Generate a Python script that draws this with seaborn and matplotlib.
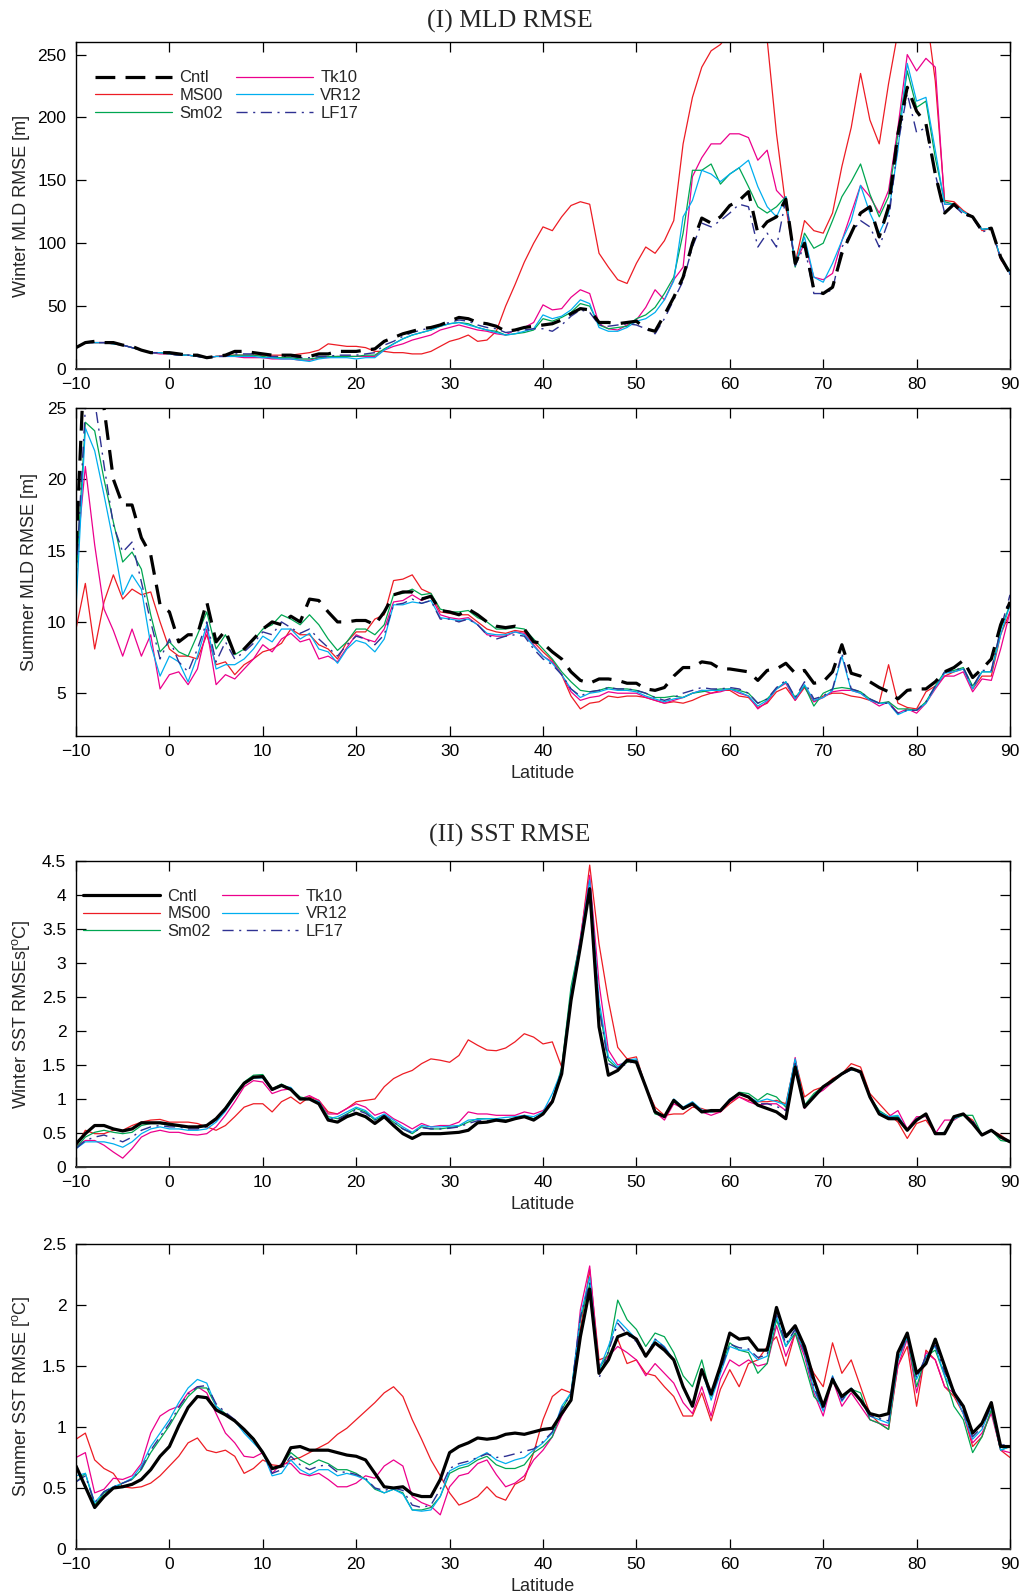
import matplotlib
matplotlib.use("Agg")
import matplotlib.pyplot as plt
import seaborn as sns
from matplotlib.ticker import FuncFormatter
from matplotlib.lines import Line2D

# ---------------- data ----------------
LAT = list(range(-10, 91))
NAMES = ["Cntl", "MS00", "Sm02", "Tk10", "VR12", "LF17"]

# (I) Winter MLD RMSE [m]
W_MLD_CNTL = [17,21,22,21,21,19,18,15,13,13,
              13,12,11,11,9,10,11,14,14,13,
              12,11,11,11,10,10,12,12,14,14,
              14,15,16,22,25,28,30,32,33,35,
              38,41,40,37,36,34,30,31,33,34,
              35,36,39,44,48,47,37,37,36,37,
              38,32,30,43,57,73,100,120,116,121,
              130,134,141,108,117,121,135,84,100,63,
              60,65,92,108,124,129,105,129,187,224,
              205,195,155,124,131,124,121,110,112,89,
              76]
W_MLD_MS00 = [17,21,21,21,21,19,17,15,13,13,
              12,11,11,10,9,10,11,11,11,11,
              11,11,11,11,12,13,15,20,19,18,
              18,17,14,14,13,13,12,12,14,18,
              22,24,27,22,23,30,50,67,85,100,
              113,110,121,130,133,131,92,81,71,68,
              84,97,92,102,118,179,216,240,253,258,
              268,278,285,280,262,187,129,84,118,110,
              108,124,161,192,235,198,179,227,268,285,
              292,285,229,134,133,126,121,110,112,87,
              77]
W_MLD_SM02 = [17,21,21,21,20,19,17,15,13,13,
              12,11,11,10,9,10,10,11,11,11,
              10,9,9,9,8,8,9,10,10,10,
              10,11,11,16,20,24,27,29,31,34,
              36,37,36,33,31,30,27,28,29,31,
              40,38,41,45,52,50,35,32,33,34,
              40,43,49,60,73,108,158,158,163,147,
              155,160,145,129,124,129,137,81,108,96,
              100,118,137,149,163,139,121,137,187,237,
              208,213,168,133,131,125,121,111,112,88,
              78]
W_MLD_TK10 = [17,21,21,21,20,19,17,15,13,12,
              12,11,11,10,9,10,10,10,9,9,
              9,8,8,8,7,7,9,9,10,10,
              10,10,10,15,18,20,23,25,27,31,
              33,35,33,31,30,28,27,31,33,37,
              51,47,48,57,63,60,36,32,31,35,
              39,49,63,55,71,81,153,168,179,179,
              187,187,184,166,174,142,134,84,100,73,
              71,76,102,124,146,137,124,142,192,250,
              237,247,240,131,131,125,121,111,112,88,
              76]
W_MLD_VR12 = [17,21,21,21,20,19,17,15,13,13,
              12,11,11,10,9,10,10,10,10,10,
              9,9,8,8,7,6,8,9,9,9,
              8,9,9,15,20,24,27,29,31,34,
              36,37,35,33,31,29,27,28,30,32,
              43,40,42,47,55,52,33,30,30,33,
              38,40,45,55,70,121,134,158,155,149,
              155,160,166,145,129,121,137,84,105,73,
              69,84,102,118,146,124,108,124,174,243,
              213,216,174,131,131,125,121,111,112,88,
              76]
W_MLD_LF17 = [17,21,21,21,20,19,17,15,13,13,
              12,11,11,10,9,10,10,12,12,12,
              11,10,10,10,9,9,10,10,11,11,
              11,12,13,19,22,26,29,31,33,35,
              37,39,38,35,33,32,29,30,31,32,
              32,30,35,42,47,45,35,34,35,36,
              35,32,28,40,55,70,97,116,113,118,
              124,131,129,97,108,97,135,82,98,60,
              60,63,97,108,118,113,97,118,179,219,
              188,192,155,124,130,123,120,109,111,88,
              75]

# (I) Summer MLD RMSE [m]
S_MLD_CNTL = [15,30,27,25,20,18.2,18.2,15.9,14.7,11.2,
              10.7,8.6,9.1,9.1,11.4,8.6,9.4,7.7,8.1,8.8,
              9.5,10.0,9.8,10.4,10.0,11.6,11.5,10.7,10.0,10.0,
              10.1,10.1,9.8,10.7,11.9,12.1,12.1,11.6,11.8,10.8,
              10.7,10.5,10.9,10.5,10.0,9.7,9.6,9.7,9.5,8.6,
              8.5,7.9,7.4,6.5,5.9,5.7,6.0,6.0,5.9,5.7,
              5.7,5.3,5.2,5.4,6.2,6.8,6.8,7.2,7.1,6.7,
              6.7,6.6,6.5,5.9,6.6,6.7,7.1,6.4,6.6,5.7,
              5.8,6.5,8.4,6.4,6.2,5.8,5.4,5.1,4.6,5.2,
              5.3,5.3,5.8,6.5,6.8,7.3,6.1,6.7,7.4,9.8,
              11.4]
S_MLD_MS00 = [9.5,12.7,8.1,11.4,13.3,11.6,12.3,11.9,12.1,10.0,
              8.1,7.6,7.6,7.4,9.1,7.0,7.2,6.3,7.0,7.4,
              7.9,8.1,8.5,9.5,9.1,9.1,8.4,8.1,7.4,8.6,
              9.3,9.3,10.2,10.5,12.9,13.0,13.3,12.3,12.0,10.7,
              10.6,10.5,10.5,10.0,9.5,9.3,9.2,9.4,9.3,8.6,
              7.9,7.3,6.3,4.8,3.9,4.3,4.4,4.8,4.7,4.8,
              4.8,4.7,4.5,4.3,4.4,4.3,4.5,4.8,5.0,5.2,
              5.2,4.8,4.7,4.0,4.3,5.1,5.4,4.5,5.4,4.4,
              4.8,5.0,5.0,4.8,4.7,4.5,4.3,7.0,4.3,4.0,
              3.9,5.1,5.5,6.2,6.5,6.7,5.3,6.2,6.2,9.1,
              10.7]
S_MLD_SM02 = [13,24.0,23.4,20.0,17.0,14.2,14.9,13.7,10.5,7.9,
              8.6,7.9,7.6,9.1,10.7,8.1,9.1,7.7,8.1,8.7,
              9.5,9.8,10.5,10.2,9.8,10.5,9.8,8.8,8.0,8.6,
              9.5,9.5,9.1,9.8,11.9,12.0,12.3,11.9,12.0,10.9,
              10.7,10.7,10.8,10.3,10.0,9.5,9.5,9.6,9.5,8.8,
              8.1,7.4,6.5,5.8,5.2,5.1,5.2,5.4,5.3,5.3,
              5.2,5.0,4.7,4.7,4.8,4.7,5.0,5.1,5.2,5.3,
              5.3,5.2,5.0,4.3,4.6,5.3,5.8,4.7,5.5,4.1,
              5.0,5.3,5.4,5.3,5.1,4.6,4.3,4.4,3.9,3.9,
              3.8,4.4,5.5,6.5,6.6,6.8,5.5,6.5,6.5,9.5,
              11.2]
S_MLD_TK10 = [14,20.9,15.4,10.9,9.4,7.6,9.5,7.6,9.1,5.3,
              6.3,6.5,5.6,6.7,9.5,5.6,6.3,6.0,6.7,7.4,
              8.4,7.9,8.8,9.2,8.6,8.8,7.4,7.6,7.2,8.2,
              9.1,8.8,8.6,9.5,11.4,11.5,11.9,11.5,11.8,10.5,
              10.3,10.2,10.3,9.8,9.1,9.0,9.0,9.3,9.2,8.4,
              7.6,7.2,6.3,5.1,4.5,4.7,4.8,5.1,5.0,5.0,
              5.0,4.7,4.5,4.3,4.5,4.7,5.0,5.2,5.0,5.1,
              5.3,5.0,4.8,3.9,4.4,5.3,5.7,4.5,5.5,4.4,
              4.7,5.1,5.2,5.2,5.0,4.5,4.1,4.4,3.6,3.9,
              3.6,4.3,5.3,6.2,6.2,6.5,5.1,6.0,5.9,8.1,
              10.7]
S_MLD_VR12 = [11,23.6,22.0,18.9,15.6,11.9,13.3,12.3,8.4,6.2,
              7.6,7.2,5.8,7.6,9.8,6.7,7.0,7.0,7.4,8.1,
              9.0,8.6,9.5,9.5,8.8,9.2,8.1,7.9,7.1,8.1,
              8.7,8.5,7.9,8.8,11.2,11.2,11.4,11.3,11.5,10.3,
              10.2,10.1,10.2,9.8,9.2,9.1,9.1,9.3,9.1,8.3,
              7.6,7.1,6.3,5.3,4.7,5.0,5.1,5.3,5.2,5.2,
              5.1,4.8,4.6,4.4,4.6,4.7,5.0,5.2,5.2,5.2,
              5.3,5.1,4.8,4.1,4.5,5.3,5.8,4.6,5.6,4.5,
              4.7,5.2,7.6,5.2,5.0,4.5,4.3,4.3,3.5,3.8,
              3.8,4.3,5.4,6.4,6.5,6.7,5.3,6.5,6.5,9.1,
              11.2]
S_MLD_LF17 = [13,25.0,25.5,21.0,16.8,14.9,15.6,12.8,10.0,7.4,
              8.8,7.2,6.5,8.1,10.0,7.2,8.6,7.4,7.9,8.5,
              9.3,9.1,10.0,9.6,9.2,9.5,8.8,8.2,7.6,8.4,
              9.0,8.8,8.4,9.1,11.2,11.3,11.6,11.3,11.5,10.2,
              10.2,10.0,10.2,9.8,9.1,8.8,9.0,9.1,9.0,8.1,
              7.4,7.0,6.3,5.3,4.8,5.1,5.2,5.4,5.3,5.3,
              5.2,5.0,4.7,4.5,4.7,5.0,5.2,5.4,5.3,5.3,
              5.4,5.3,5.0,4.3,4.6,5.4,5.9,4.7,5.8,4.6,
              4.8,5.3,7.8,5.3,5.1,4.6,4.3,4.3,3.6,3.8,
              3.8,4.4,5.5,6.5,6.6,6.8,5.4,6.6,6.6,9.5,
              11.9]

# (II) Winter SST RMSE [oC]
W_SST_CNTL = [0.34,0.49,0.61,0.61,0.56,0.53,0.56,0.65,0.65,0.65,
              0.63,0.61,0.59,0.59,0.61,0.71,0.86,1.05,1.23,1.32,
              1.33,1.14,1.20,1.14,1.00,1.00,0.93,0.69,0.66,0.74,
              0.79,0.74,0.64,0.74,0.61,0.49,0.42,0.49,0.49,0.49,
              0.50,0.51,0.54,0.65,0.66,0.69,0.67,0.71,0.74,0.69,
              0.78,0.96,1.37,2.45,3.24,4.09,2.06,1.35,1.42,1.57,
              1.54,1.18,0.81,0.74,0.98,0.86,0.93,0.81,0.83,0.83,
              0.98,1.08,1.03,0.91,0.86,0.81,0.71,1.47,0.88,1.03,
              1.18,1.27,1.37,1.45,1.40,1.03,0.78,0.71,0.71,0.54,
              0.69,0.78,0.49,0.49,0.74,0.78,0.64,0.47,0.54,0.44,
              0.37]
W_SST_MS00 = [0.30,0.54,0.49,0.49,0.54,0.54,0.61,0.66,0.69,0.70,
              0.66,0.66,0.66,0.64,0.59,0.54,0.61,0.74,0.88,0.93,
              0.93,0.81,0.96,1.03,0.93,1.03,0.98,0.81,0.78,0.86,
              0.96,0.98,1.00,1.18,1.30,1.37,1.42,1.52,1.59,1.57,
              1.54,1.64,1.87,1.79,1.72,1.71,1.75,1.84,1.96,1.91,
              1.81,1.84,1.47,2.45,3.33,4.44,3.28,2.45,1.76,1.59,
              1.62,1.18,0.88,0.76,0.78,0.78,0.88,0.86,0.81,0.81,
              0.93,1.03,0.98,0.96,0.96,0.98,0.93,1.57,1.03,1.13,
              1.18,1.30,1.37,1.52,1.47,1.08,0.93,0.78,0.66,0.42,
              0.64,0.69,0.49,0.51,0.71,0.78,0.69,0.47,0.54,0.47,
              0.37]
W_SST_SM02 = [0.28,0.44,0.51,0.54,0.51,0.49,0.51,0.61,0.64,0.64,
              0.61,0.60,0.58,0.58,0.61,0.71,0.87,1.08,1.25,1.35,
              1.36,1.15,1.22,1.15,1.03,1.00,0.96,0.74,0.71,0.78,
              0.86,0.81,0.69,0.76,0.66,0.56,0.49,0.59,0.56,0.56,
              0.58,0.60,0.66,0.71,0.71,0.70,0.69,0.71,0.76,0.71,
              0.78,0.96,1.47,2.65,3.33,4.04,2.35,1.57,1.45,1.54,
              1.57,1.18,0.78,0.74,0.98,0.86,0.93,0.83,0.81,0.83,
              0.98,1.10,1.08,0.98,1.08,1.03,0.88,1.57,0.91,1.08,
              1.18,1.25,1.37,1.43,1.40,1.03,0.83,0.74,0.74,0.54,
              0.71,0.76,0.49,0.51,0.71,0.76,0.76,0.47,0.54,0.39,
              0.37]
W_SST_TK10 = [0.30,0.39,0.39,0.32,0.22,0.13,0.27,0.44,0.51,0.54,
              0.51,0.51,0.48,0.47,0.49,0.59,0.76,0.96,1.18,1.27,
              1.25,1.08,1.13,1.15,1.00,1.05,0.98,0.78,0.78,0.86,
              0.93,0.88,0.76,0.81,0.71,0.64,0.56,0.64,0.59,0.61,
              0.61,0.66,0.81,0.78,0.78,0.76,0.76,0.76,0.81,0.78,
              0.83,0.98,1.42,2.55,3.38,4.29,2.70,1.72,1.50,1.54,
              1.57,1.18,0.81,0.69,0.93,0.86,0.91,0.81,0.76,0.81,
              0.96,1.03,0.96,0.91,0.93,0.93,0.83,1.61,0.86,1.05,
              1.13,1.25,1.37,1.45,1.40,1.03,0.81,0.74,0.83,0.56,
              0.74,0.74,0.49,0.69,0.69,0.78,0.66,0.47,0.54,0.44,
              0.37]
W_SST_VR12 = [0.27,0.37,0.37,0.37,0.34,0.29,0.37,0.49,0.56,0.59,
              0.56,0.56,0.54,0.54,0.56,0.66,0.82,1.03,1.23,1.31,
              1.31,1.13,1.19,1.17,1.00,1.00,0.96,0.71,0.74,0.81,
              0.88,0.83,0.71,0.78,0.69,0.59,0.51,0.61,0.59,0.59,
              0.60,0.61,0.69,0.70,0.71,0.71,0.73,0.74,0.76,0.74,
              0.81,1.08,1.42,2.55,3.33,4.22,2.45,1.62,1.47,1.57,
              1.59,1.18,0.81,0.74,1.00,0.88,0.96,0.84,0.81,0.83,
              1.00,1.08,1.03,0.96,1.00,0.96,0.91,1.59,0.88,1.05,
              1.17,1.27,1.37,1.45,1.40,1.03,0.81,0.74,0.76,0.54,
              0.71,0.76,0.49,0.51,0.71,0.78,0.66,0.47,0.54,0.44,
              0.37]
W_SST_LF17 = [0.27,0.39,0.44,0.47,0.42,0.37,0.44,0.54,0.59,0.61,
              0.59,0.59,0.56,0.56,0.59,0.69,0.84,1.05,1.24,1.32,
              1.32,1.14,1.20,1.15,1.01,1.00,0.94,0.71,0.70,0.77,
              0.84,0.79,0.69,0.76,0.66,0.56,0.50,0.58,0.56,0.56,
              0.57,0.59,0.64,0.68,0.68,0.68,0.69,0.71,0.74,0.71,
              0.78,0.98,1.42,2.50,3.31,4.12,2.35,1.52,1.45,1.52,
              1.56,1.18,0.79,0.74,0.98,0.86,0.93,0.82,0.81,0.83,
              0.98,1.08,1.03,0.93,0.93,0.89,0.83,1.52,0.87,1.04,
              1.17,1.26,1.36,1.43,1.38,1.02,0.79,0.73,0.71,0.54,
              0.70,0.77,0.49,0.50,0.73,0.78,0.68,0.47,0.54,0.44,
              0.37]

# (II) Summer SST RMSE [oC]
S_SST_CNTL = [0.68,0.51,0.34,0.43,0.50,0.51,0.53,0.57,0.65,0.76,
              0.84,1.01,1.16,1.25,1.24,1.14,1.10,1.05,0.98,0.90,
              0.79,0.66,0.68,0.83,0.84,0.81,0.81,0.81,0.79,0.77,
              0.76,0.73,0.62,0.51,0.50,0.51,0.45,0.43,0.43,0.57,
              0.79,0.84,0.87,0.91,0.90,0.91,0.94,0.95,0.94,0.96,
              0.98,0.99,1.11,1.22,1.74,2.13,1.44,1.55,1.74,1.77,
              1.72,1.58,1.69,1.63,1.55,1.33,1.17,1.47,1.27,1.50,
              1.77,1.72,1.73,1.63,1.63,1.98,1.74,1.83,1.66,1.39,
              1.17,1.39,1.25,1.31,1.22,1.11,1.09,1.11,1.61,1.77,
              1.44,1.52,1.72,1.50,1.28,1.17,0.95,1.03,1.20,0.84,
              0.84]
S_SST_MS00 = [0.90,0.95,0.73,0.66,0.62,0.51,0.50,0.51,0.54,0.60,
              0.68,0.76,0.87,0.91,0.81,0.79,0.81,0.76,0.62,0.66,
              0.73,0.69,0.68,0.73,0.75,0.79,0.83,0.87,0.94,0.99,
              1.06,1.13,1.20,1.28,1.33,1.25,1.06,0.90,0.73,0.60,
              0.46,0.36,0.39,0.43,0.51,0.43,0.40,0.53,0.57,0.79,
              1.06,1.25,1.31,1.28,1.80,2.29,1.55,1.58,1.72,1.52,
              1.55,1.44,1.42,1.33,1.25,1.09,1.09,1.28,1.05,1.31,
              1.47,1.33,1.52,1.55,1.66,1.74,1.50,1.77,1.61,1.44,
              1.33,1.69,1.44,1.55,1.33,1.11,1.03,0.98,1.50,1.66,
              1.17,1.63,1.55,1.33,1.25,1.11,0.84,0.92,1.14,0.81,
              0.75]
S_SST_SM02 = [0.55,0.62,0.36,0.46,0.50,0.54,0.57,0.65,0.79,0.90,
              1.01,1.14,1.25,1.32,1.32,1.17,1.11,1.05,0.98,0.91,
              0.79,0.65,0.68,0.79,0.73,0.69,0.73,0.70,0.65,0.65,
              0.62,0.57,0.49,0.46,0.49,0.46,0.32,0.32,0.34,0.43,
              0.62,0.66,0.68,0.73,0.76,0.69,0.66,0.66,0.69,0.79,
              0.84,0.92,1.14,1.28,1.88,2.17,1.47,1.61,2.04,1.88,
              1.80,1.66,1.77,1.74,1.61,1.42,1.33,1.55,1.25,1.47,
              1.69,1.63,1.61,1.44,1.52,1.88,1.66,1.77,1.52,1.25,
              1.17,1.39,1.25,1.31,1.28,1.06,1.03,0.98,1.55,1.74,
              1.33,1.58,1.63,1.42,1.17,1.06,0.79,0.92,1.14,0.81,
              0.84]
S_SST_TK10 = [0.75,0.79,0.46,0.49,0.58,0.57,0.60,0.70,0.95,1.09,
              1.14,1.17,1.28,1.33,1.28,1.11,0.95,0.87,0.76,0.75,
              0.79,0.62,0.70,0.70,0.62,0.60,0.62,0.57,0.51,0.51,
              0.54,0.60,0.58,0.68,0.73,0.68,0.43,0.38,0.35,0.28,
              0.51,0.60,0.62,0.70,0.73,0.61,0.51,0.54,0.60,0.73,
              0.81,0.92,1.09,1.22,1.96,2.32,1.50,1.58,1.66,1.61,
              1.55,1.42,1.52,1.44,1.36,1.20,1.11,1.33,1.09,1.39,
              1.55,1.50,1.55,1.50,1.52,1.83,1.58,1.77,1.58,1.28,
              1.09,1.39,1.17,1.28,1.17,1.06,1.03,1.01,1.50,1.72,
              1.28,1.61,1.55,1.33,1.28,1.11,0.87,0.95,1.11,0.81,
              0.79]
S_SST_VR12 = [0.60,0.62,0.38,0.47,0.51,0.54,0.58,0.68,0.84,0.95,
              1.06,1.20,1.32,1.39,1.36,1.17,1.10,1.05,0.95,0.87,
              0.79,0.60,0.62,0.73,0.65,0.61,0.65,0.65,0.60,0.62,
              0.60,0.57,0.50,0.46,0.49,0.45,0.32,0.31,0.32,0.43,
              0.64,0.68,0.70,0.75,0.79,0.73,0.70,0.73,0.75,0.81,
              0.87,0.95,1.17,1.28,1.91,2.23,1.47,1.66,1.88,1.80,
              1.72,1.58,1.72,1.66,1.55,1.33,1.17,1.47,1.22,1.44,
              1.66,1.63,1.63,1.55,1.58,1.91,1.66,1.80,1.61,1.31,
              1.13,1.42,1.21,1.32,1.22,1.09,1.06,1.03,1.55,1.74,
              1.39,1.58,1.66,1.42,1.28,1.11,0.90,0.98,1.17,0.81,
              0.84]
S_SST_LF17 = [0.55,0.60,0.38,0.47,0.51,0.54,0.57,0.66,0.81,0.92,
              1.03,1.16,1.27,1.33,1.34,1.19,1.12,1.06,0.97,0.89,
              0.80,0.62,0.65,0.76,0.69,0.65,0.68,0.69,0.63,0.63,
              0.61,0.58,0.50,0.48,0.50,0.48,0.36,0.34,0.36,0.49,
              0.66,0.70,0.72,0.75,0.78,0.75,0.76,0.78,0.80,0.82,
              0.88,0.96,1.15,1.27,1.90,2.18,1.40,1.62,1.85,1.76,
              1.70,1.57,1.72,1.65,1.55,1.34,1.17,1.46,1.24,1.46,
              1.68,1.65,1.64,1.57,1.59,1.92,1.68,1.80,1.62,1.33,
              1.14,1.41,1.22,1.32,1.21,1.09,1.07,1.05,1.56,1.75,
              1.40,1.58,1.67,1.45,1.30,1.13,0.92,1.00,1.17,0.85,
              0.86]

XTICKS = list(range(-10, 91, 10))
W_MLD_YTICKS = [0, 50, 100, 150, 200, 250]
S_MLD_YTICKS = [5, 10, 15, 20, 25]
W_SST_YTICKS = [0, 0.5, 1, 1.5, 2, 2.5, 3, 3.5, 4, 4.5]
S_SST_YTICKS = [0, 0.5, 1, 1.5, 2, 2.5]

# ---------------- style ----------------
sns.set_theme(style="white")
plt.rcParams["font.family"] = ["Liberation Sans", "DejaVu Sans"]
plt.rcParams["mathtext.fontset"] = "custom"
plt.rcParams["mathtext.rm"] = "Liberation Sans"

COLORS = {"Cntl": "black", "MS00": "#ED1C24", "Sm02": "#00A651",
          "Tk10": "#EC008C", "VR12": "#00AEEF", "LF17": "#2E3192"}


def style_for(name, cntl_dashed):
    if name == "Cntl":
        return dict(color="black", linewidth=2.3,
                    linestyle=(0, (6.2, 3.2)) if cntl_dashed else "-")
    if name == "LF17":
        return dict(color=COLORS[name], linewidth=1.0, linestyle=(0, (8, 4, 1.5, 4)))
    return dict(color=COLORS[name], linewidth=0.9, linestyle="-")


fig = plt.figure(figsize=(10.25, 15.92), dpi=100)
FW, FH = 1025.0, 1592.0


def make_ax(top, bottom):
    return fig.add_axes([76 / FW, 1 - bottom / FH, (1010 - 76) / FW, (bottom - top) / FH])


def draw_panel(ax, series, ylim, yticks, ylabel, lab_x, cntl_dashed, xlabel, dotted_base):
    order = ["MS00", "Tk10", "Sm02", "VR12", "LF17", "Cntl"]
    for name in order:
        st = style_for(name, cntl_dashed)
        sns.lineplot(x=LAT, y=series[name], ax=ax, estimator=None, legend=False,
                     color=st["color"], linewidth=st["linewidth"], linestyle=st["linestyle"])
    ax.set_xlim(-10, 90)
    ax.set_ylim(*ylim)
    ax.set_xticks(XTICKS)
    ax.set_yticks(yticks)
    ax.yaxis.set_major_formatter(FuncFormatter(lambda v, p: f"{v:g}"))
    ax.tick_params(direction="in", length=7.5, width=0.9, top=True, right=True,
                   bottom=True, left=True, labelsize=12.5, pad=6, colors="black")
    ax.tick_params(axis="y", pad=7)
    for s in ax.spines.values():
        s.set_linewidth(1.0)
        s.set_color("black")
        s.set_visible(True)
    if dotted_base:
        ax.spines["bottom"].set_linewidth(1.4)
        ax.spines["bottom"].set_color("#333333")
        ax.spines["bottom"].set_linestyle((0, (2.5, 1.0)))
    ax.set_ylabel(ylabel, fontsize=13)
    ax.yaxis.set_label_coords(lab_x, 0.5)
    if xlabel:
        ax.set_xlabel("Latitude", fontsize=13, labelpad=4)
    else:
        ax.set_xlabel("")
    ax.grid(False)


def add_legend(ax, cntl_dashed, anchor, colspace):
    handles = []
    for name in NAMES:
        st = style_for(name, cntl_dashed)
        handles.append(Line2D([], [], color=st["color"], linewidth=st["linewidth"],
                              linestyle=st["linestyle"]))
    ax.legend(handles, NAMES, ncol=2, loc="upper left", bbox_to_anchor=anchor,
              borderaxespad=0, borderpad=0, frameon=False, handlelength=4.6,
              handletextpad=0.45, labelspacing=0.17, columnspacing=colspace,
              fontsize=12)


ax1 = make_ax(42, 369)
draw_panel(ax1, dict(Cntl=W_MLD_CNTL, MS00=W_MLD_MS00, Sm02=W_MLD_SM02,
                     Tk10=W_MLD_TK10, VR12=W_MLD_VR12, LF17=W_MLD_LF17),
           (0, 260), W_MLD_YTICKS, "Winter MLD RMSE [m]", -0.049, True, False, True)
add_legend(ax1, True, (0.0203, 0.913), 0.8)

ax2 = make_ax(408, 736)
draw_panel(ax2, dict(Cntl=S_MLD_CNTL, MS00=S_MLD_MS00, Sm02=S_MLD_SM02,
                     Tk10=S_MLD_TK10, VR12=S_MLD_VR12, LF17=S_MLD_LF17),
           (2, 25), S_MLD_YTICKS, "Summer MLD RMSE [m]", -0.041, True, True, False)

ax3 = make_ax(861, 1167)
draw_panel(ax3, dict(Cntl=W_SST_CNTL, MS00=W_SST_MS00, Sm02=W_SST_SM02,
                     Tk10=W_SST_TK10, VR12=W_SST_VR12, LF17=W_SST_LF17),
           (0, 4.5), W_SST_YTICKS, r"Winter SST RMSEs[$^{\mathrm{o}}$C]", -0.047, False, True, True)
add_legend(ax3, False, (0.0075, 0.910), 0.65)

ax4 = make_ax(1244, 1549)
draw_panel(ax4, dict(Cntl=S_SST_CNTL, MS00=S_SST_MS00, Sm02=S_SST_SM02,
                     Tk10=S_SST_TK10, VR12=S_SST_VR12, LF17=S_SST_LF17),
           (0, 2.5), S_SST_YTICKS, r"Summer SST RMSE [$^{\mathrm{o}}$C]", -0.047, False, True, True)

fig.text(510 / FW, 1 - 21 / FH, "(I) MLD RMSE", ha="center", va="center",
         family=["Liberation Serif", "DejaVu Serif"], fontsize=18.5)
fig.text(510 / FW, 1 - 835 / FH, "(II) SST RMSE", ha="center", va="center",
         family=["Liberation Serif", "DejaVu Serif"], fontsize=18.5)

fig.savefig("out.png", dpi=100, facecolor="white")
